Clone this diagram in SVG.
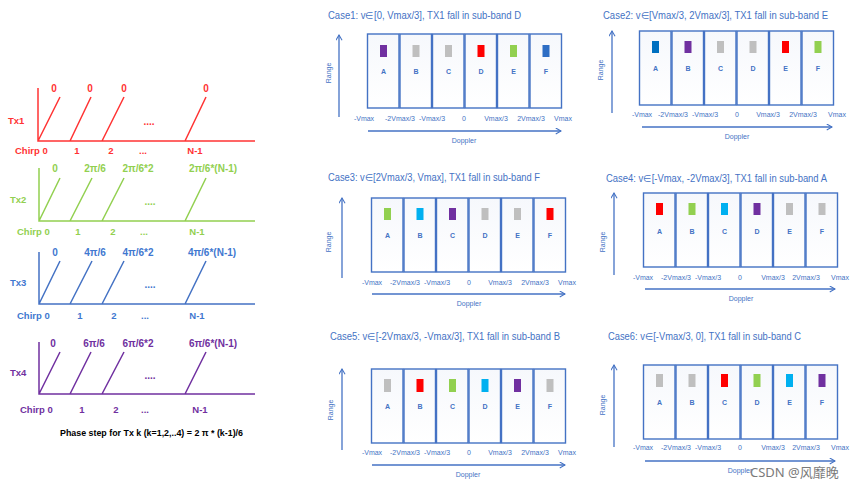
<svg xmlns="http://www.w3.org/2000/svg" width="865" height="488" viewBox="0 0 865 488">
<defs>
<marker id="ah" viewBox="0 0 8 8" refX="7" refY="4" markerWidth="7" markerHeight="7" orient="auto" markerUnits="userSpaceOnUse">
<path d="M1,0.5 L7,4 L1,7.5" fill="none" stroke="#4472c4" stroke-width="1.2"/>
</marker>
<linearGradient id="cg" x1="0" y1="0" x2="0" y2="1">
<stop offset="0" stop-color="#f6f8fc"/><stop offset="1" stop-color="#ffffff"/>
</linearGradient>
</defs>
<style>
text{font-family:"Liberation Sans","Open Sans",sans-serif;}
.red{fill:#ff3333;} .grn{fill:#92d050;} .blu{fill:#3f78d0;} .pur{fill:#7030a0;}
.lr{stroke:#ff3333;stroke-width:1.5;fill:none;} .lg{stroke:#92d050;stroke-width:1.5;fill:none;}
.lb{stroke:#4472c4;stroke-width:1.5;fill:none;} .lp{stroke:#7030a0;stroke-width:1.5;fill:none;}
.ph{font-size:10px;font-weight:bold;text-anchor:middle;}
.tx{font-size:9.5px;font-weight:bold;}
.ch{font-size:9.5px;font-weight:bold;}
.chm{font-size:9.5px;font-weight:bold;text-anchor:middle;}
.title{font-size:10px;fill:#4472c4;}
.col{fill:url(#cg);stroke:#4472c4;stroke-width:1.4;}
.lt{font-size:7px;font-weight:bold;fill:#4472c4;text-anchor:middle;}
.tk{font-size:7px;fill:#4472c4;text-anchor:middle;}
.ax{stroke:#4472c4;stroke-width:1.3;fill:none;marker-end:url(#ah);}
.al{font-size:7px;fill:#4472c4;text-anchor:middle;}
.cR{fill:#ff0000;} .cG{fill:#92d050;} .cB{fill:#2e6ec4;} .cC{fill:#00b0f0;} .cP{fill:#7030a0;} .cY{fill:#bfbfbf;}
</style>
<rect width="865" height="488" fill="#ffffff"/>

<!-- Tx1 -->
<g id="tx1">
<path class="lr" d="M38,88 V141 H255 M38,141 L60,97 M70,141 L91,97 M102,141 L124,97 M185,141 L206,97"/>
<text class="ph red" x="54" y="92">0</text>
<text class="ph red" x="90" y="92">0</text>
<text class="ph red" x="124" y="92">0</text>
<text class="ph red" x="206" y="92">0</text>
<text class="tx red" x="8" y="124">Tx1</text>
<text class="ph red" x="149" y="125">....</text>
<text class="ch red" x="15" y="154">Chirp 0</text>
<text class="chm red" x="77" y="154">1</text>
<text class="chm red" x="111" y="154">2</text>
<text class="chm red" x="143" y="154">...</text>
<text class="chm red" x="195" y="154">N-1</text>
</g>

<!-- Tx2 -->
<g id="tx2">
<path class="lg" d="M39,168 V221 H255 M39,221 L60,178 M70,221 L92,178 M102,221 L124,178 M185,221 L206,178"/>
<text class="ph grn" x="55" y="172">0</text>
<text class="ph grn" x="95" y="172">2π/6</text>
<text class="ph grn" x="138" y="172">2π/6*2</text>
<text class="ph grn" x="213" y="172">2π/6*(N-1)</text>
<text class="tx grn" x="10" y="203">Tx2</text>
<text class="ph grn" x="150" y="205">....</text>
<text class="ch grn" x="17" y="235">Chirp 0</text>
<text class="chm grn" x="78" y="235">1</text>
<text class="chm grn" x="113" y="235">2</text>
<text class="chm grn" x="144" y="235">...</text>
<text class="chm grn" x="197" y="235">N-1</text>
</g>

<!-- Tx3 -->
<g id="tx3">
<path class="lb" d="M39,252 V304 H255 M39,304 L60,261 M70,304 L92,261 M102,304 L124,261 M185,304 L206,261"/>
<text class="ph blu" x="55" y="256">0</text>
<text class="ph blu" x="95" y="256">4π/6</text>
<text class="ph blu" x="138" y="256">4π/6*2</text>
<text class="ph blu" x="212" y="256">4π/6*(N-1)</text>
<text class="tx blu" x="10" y="286">Tx3</text>
<text class="ph blu" x="150" y="288">....</text>
<text class="ch blu" x="17" y="319">Chirp 0</text>
<text class="chm blu" x="80" y="319">1</text>
<text class="chm blu" x="114" y="319">2</text>
<text class="chm blu" x="145" y="319">...</text>
<text class="chm blu" x="197" y="319">N-1</text>
</g>

<!-- Tx4 -->
<g id="tx4">
<path class="lp" d="M39,342 V394 H255 M39,394 L60,352 M70,394 L91,352 M102,394 L124,352 M185,394 L206,352"/>
<text class="ph pur" x="53" y="347">0</text>
<text class="ph pur" x="94" y="347">6π/6</text>
<text class="ph pur" x="138" y="347">6π/6*2</text>
<text class="ph pur" x="213" y="347">6π/6*(N-1)</text>
<text class="tx pur" x="10" y="376">Tx4</text>
<text class="ph pur" x="150" y="379">....</text>
<text class="ch pur" x="20" y="413">Chirp 0</text>
<text class="chm pur" x="82" y="413">1</text>
<text class="chm pur" x="116" y="413">2</text>
<text class="chm pur" x="145" y="413">...</text>
<text class="chm pur" x="200" y="413">N-1</text>
</g>

<g id="phase-note">
<text x="60" y="436" font-size="8.5" font-weight="bold" fill="#000" textLength="183" lengthAdjust="spacingAndGlyphs">Phase step for Tx k (k=1,2,..4) = 2 π * (k-1)/6</text>
</g>

<!-- Case 1 -->
<g id="case1">
<text class="title" x="328" y="18.5" textLength="193" lengthAdjust="spacingAndGlyphs">Case1:  v∈[0, Vmax/3], TX1 fall in sub-band D</text>
<g transform="translate(367,34)">
<rect class="col" x="0.5" y="0" width="31.5" height="74"/><rect class="col" x="33" y="0" width="31.5" height="74"/><rect class="col" x="65.5" y="0" width="31.5" height="74"/><rect class="col" x="98" y="0" width="31.5" height="74"/><rect class="col" x="130.5" y="0" width="31.5" height="74"/><rect class="col" x="163" y="0" width="31.5" height="74"/>
<rect class="cP" x="13" y="11" width="7" height="12"/><rect class="cY" x="45.5" y="11" width="7" height="12"/><rect class="cY" x="78" y="11" width="7" height="12"/><rect class="cR" x="110.5" y="11" width="7" height="12"/><rect class="cG" x="143" y="11" width="7" height="12"/><rect class="cB" x="175.5" y="11" width="7" height="12"/>
<text class="lt" x="16.5" y="39.5">A</text><text class="lt" x="49" y="39.5">B</text><text class="lt" x="81.5" y="39.5">C</text><text class="lt" x="114" y="39.5">D</text><text class="lt" x="146.5" y="39.5">E</text><text class="lt" x="179" y="39.5">F</text>
<line class="ax" x1="-28" y1="83" x2="-28" y2="1"/>
<text class="al" transform="translate(-36,39) rotate(-90)">Range</text>
<text class="tk" x="-3" y="86.5">-Vmax</text><text class="tk" x="33" y="86.5">-2Vmax/3</text><text class="tk" x="65" y="86.5">-Vmax/3</text><text class="tk" x="97" y="86.5">0</text><text class="tk" x="129" y="86.5">Vmax/3</text><text class="tk" x="164" y="86.5">2Vmax/3</text><text class="tk" x="196" y="86.5">Vmax</text>
<line class="ax" x1="1" y1="97" x2="194" y2="97"/>
<text class="al" x="97" y="108.5">Doppler</text>
</g>
</g>

<!-- Case 2 -->
<g id="case2">
<text class="title" x="603" y="18.5" textLength="225" lengthAdjust="spacingAndGlyphs">Case2:  v∈[Vmax/3, 2Vmax/3], TX1 fall in sub-band E</text>
<g transform="translate(639,31)">
<rect class="col" x="0.5" y="0" width="31.5" height="74"/><rect class="col" x="33" y="0" width="31.5" height="74"/><rect class="col" x="65.5" y="0" width="31.5" height="74"/><rect class="col" x="98" y="0" width="31.5" height="74"/><rect class="col" x="130.5" y="0" width="31.5" height="74"/><rect class="col" x="163" y="0" width="31.5" height="74"/>
<rect class="cB" x="13" y="10" width="7" height="12" style="fill:#0070c0"/><rect class="cP" x="45.5" y="10" width="7" height="12"/><rect class="cY" x="78" y="10" width="7" height="12"/><rect class="cY" x="110.5" y="10" width="7" height="12"/><rect class="cR" x="143" y="10" width="7" height="12"/><rect class="cG" x="175.5" y="10" width="7" height="12"/>
<text class="lt" x="16.5" y="39.5">A</text><text class="lt" x="49" y="39.5">B</text><text class="lt" x="81.5" y="39.5">C</text><text class="lt" x="114" y="39.5">D</text><text class="lt" x="146.5" y="39.5">E</text><text class="lt" x="179" y="39.5">F</text>
<line class="ax" x1="-27" y1="82" x2="-27" y2="0"/>
<text class="al" transform="translate(-36,39) rotate(-90)">Range</text>
<text class="tk" x="3" y="85.5">-Vmax</text><text class="tk" x="34" y="85.5">-2Vmax/3</text><text class="tk" x="66" y="85.5">-Vmax/3</text><text class="tk" x="98" y="85.5">0</text><text class="tk" x="129" y="85.5">Vmax/3</text><text class="tk" x="164" y="85.5">2Vmax/3</text><text class="tk" x="198" y="85.5">Vmax</text>
<line class="ax" x1="3" y1="96" x2="193" y2="96"/>
<text class="al" x="98" y="107.5">Doppler</text>
</g>
</g>

<!-- Case 3 -->
<g id="case3">
<text class="title" x="328" y="180.5" textLength="212" lengthAdjust="spacingAndGlyphs">Case3:  v∈[2Vmax/3, Vmax], TX1 fall in sub-band F</text>
<g transform="translate(371,198)">
<rect class="col" x="0.5" y="0" width="31.5" height="74"/><rect class="col" x="33" y="0" width="31.5" height="74"/><rect class="col" x="65.5" y="0" width="31.5" height="74"/><rect class="col" x="98" y="0" width="31.5" height="74"/><rect class="col" x="130.5" y="0" width="31.5" height="74"/><rect class="col" x="163" y="0" width="31.5" height="74"/>
<rect class="cG" x="13" y="10" width="7" height="12"/><rect class="cC" x="45.5" y="10" width="7" height="12"/><rect class="cP" x="78" y="10" width="7" height="12"/><rect class="cY" x="110.5" y="10" width="7" height="12"/><rect class="cY" x="143" y="10" width="7" height="12"/><rect class="cR" x="175.5" y="10" width="7" height="12"/>
<text class="lt" x="16.5" y="39.5">A</text><text class="lt" x="49" y="39.5">B</text><text class="lt" x="81.5" y="39.5">C</text><text class="lt" x="114" y="39.5">D</text><text class="lt" x="146.5" y="39.5">E</text><text class="lt" x="179" y="39.5">F</text>
<line class="ax" x1="-29" y1="80" x2="-29" y2="0"/>
<text class="al" transform="translate(-40,44) rotate(-90)">Range</text>
<text class="tk" x="1" y="86.5">-Vmax</text><text class="tk" x="34" y="86.5">-2Vmax/3</text><text class="tk" x="66" y="86.5">-Vmax/3</text><text class="tk" x="98" y="86.5">0</text><text class="tk" x="129" y="86.5">Vmax/3</text><text class="tk" x="164" y="86.5">2Vmax/3</text><text class="tk" x="196" y="86.5">Vmax</text>
<line class="ax" x1="1" y1="96" x2="194" y2="96"/>
<text class="al" x="98" y="107.5">Doppler</text>
</g>
</g>

<!-- Case 4 -->
<g id="case4">
<text class="title" x="606" y="181.5" textLength="221" lengthAdjust="spacingAndGlyphs">Case4:  v∈[-Vmax, -2Vmax/3], TX1 fall in sub-band A</text>
<g transform="translate(643,193)">
<rect class="col" x="0.5" y="0" width="31.5" height="74"/><rect class="col" x="33" y="0" width="31.5" height="74"/><rect class="col" x="65.5" y="0" width="31.5" height="74"/><rect class="col" x="98" y="0" width="31.5" height="74"/><rect class="col" x="130.5" y="0" width="31.5" height="74"/><rect class="col" x="163" y="0" width="31.5" height="74"/>
<rect class="cR" x="13" y="10" width="7" height="12"/><rect class="cG" x="45.5" y="10" width="7" height="12"/><rect class="cC" x="78" y="10" width="7" height="12"/><rect class="cP" x="110.5" y="10" width="7" height="12"/><rect class="cY" x="143" y="10" width="7" height="12"/><rect class="cY" x="175.5" y="10" width="7" height="12"/>
<text class="lt" x="16.5" y="40.5">A</text><text class="lt" x="49" y="40.5">B</text><text class="lt" x="81.5" y="40.5">C</text><text class="lt" x="114" y="40.5">D</text><text class="lt" x="146.5" y="40.5">E</text><text class="lt" x="179" y="40.5">F</text>
<line class="ax" x1="-29" y1="82" x2="-29" y2="0"/>
<text class="al" transform="translate(-38,49) rotate(-90)">Range</text>
<text class="tk" x="0" y="86.5">-Vmax</text><text class="tk" x="33" y="86.5">-2Vmax/3</text><text class="tk" x="65" y="86.5">-Vmax/3</text><text class="tk" x="97" y="86.5">0</text><text class="tk" x="130" y="86.5">Vmax/3</text><text class="tk" x="163" y="86.5">2Vmax/3</text><text class="tk" x="197" y="86.5">Vmax</text>
<line class="ax" x1="2" y1="96" x2="192" y2="96"/>
<text class="al" x="98" y="107.5">Doppler</text>
</g>
</g>

<!-- Case 5 -->
<g id="case5">
<text class="title" x="330" y="339.5" textLength="230" lengthAdjust="spacingAndGlyphs">Case5:  v∈[-2Vmax/3, -Vmax/3], TX1 fall in sub-band B</text>
<g transform="translate(371,369)">
<rect class="col" x="0.5" y="0" width="31.5" height="74"/><rect class="col" x="33" y="0" width="31.5" height="74"/><rect class="col" x="65.5" y="0" width="31.5" height="74"/><rect class="col" x="98" y="0" width="31.5" height="74"/><rect class="col" x="130.5" y="0" width="31.5" height="74"/><rect class="col" x="163" y="0" width="31.5" height="74"/>
<rect class="cY" x="13" y="10" width="7" height="13"/><rect class="cR" x="45.5" y="10" width="7" height="13"/><rect class="cG" x="78" y="10" width="7" height="13"/><rect class="cC" x="110.5" y="10" width="7" height="13"/><rect class="cP" x="143" y="10" width="7" height="13"/><rect class="cY" x="175.5" y="10" width="7" height="13"/>
<text class="lt" x="16.5" y="39.5">A</text><text class="lt" x="49" y="39.5">B</text><text class="lt" x="81.5" y="39.5">C</text><text class="lt" x="114" y="39.5">D</text><text class="lt" x="146.5" y="39.5">E</text><text class="lt" x="179" y="39.5">F</text>
<line class="ax" x1="-29" y1="81" x2="-29" y2="0"/>
<text class="al" transform="translate(-38,41) rotate(-90)">Range</text>
<text class="tk" x="1" y="85.5">-Vmax</text><text class="tk" x="34" y="85.5">-2Vmax/3</text><text class="tk" x="66" y="85.5">-Vmax/3</text><text class="tk" x="98" y="85.5">0</text><text class="tk" x="129" y="85.5">Vmax/3</text><text class="tk" x="164" y="85.5">2Vmax/3</text><text class="tk" x="196" y="85.5">Vmax</text>
<line class="ax" x1="1" y1="96" x2="194" y2="96"/>
<text class="al" x="97" y="107.5">Doppler</text>
</g>
</g>

<!-- Case 6 -->
<g id="case6">
<text class="title" x="608" y="339.5" textLength="193" lengthAdjust="spacingAndGlyphs">Case6:  v∈[-Vmax/3, 0], TX1 fall in sub-band C</text>
<g transform="translate(643,365)">
<rect class="col" x="0.5" y="0" width="31.5" height="74"/><rect class="col" x="33" y="0" width="31.5" height="74"/><rect class="col" x="65.5" y="0" width="31.5" height="74"/><rect class="col" x="98" y="0" width="31.5" height="74"/><rect class="col" x="130.5" y="0" width="31.5" height="74"/><rect class="col" x="163" y="0" width="31.5" height="74"/>
<rect class="cY" x="13" y="9" width="7" height="13"/><rect class="cY" x="45.5" y="9" width="7" height="13"/><rect class="cR" x="78" y="9" width="7" height="13"/><rect class="cG" x="110.5" y="9" width="7" height="13"/><rect class="cC" x="143" y="9" width="7" height="13"/><rect class="cP" x="175.5" y="9" width="7" height="13"/>
<text class="lt" x="16.5" y="39.5">A</text><text class="lt" x="49" y="39.5">B</text><text class="lt" x="81.5" y="39.5">C</text><text class="lt" x="114" y="39.5">D</text><text class="lt" x="146.5" y="39.5">E</text><text class="lt" x="179" y="39.5">F</text>
<line class="ax" x1="-29" y1="82" x2="-29" y2="0"/>
<text class="al" transform="translate(-38,40) rotate(-90)">Range</text>
<text class="tk" x="0" y="84.5">-Vmax</text><text class="tk" x="33" y="84.5">-2Vmax/3</text><text class="tk" x="65" y="84.5">-Vmax/3</text><text class="tk" x="97" y="84.5">0</text><text class="tk" x="130" y="84.5">Vmax/3</text><text class="tk" x="163" y="84.5">2Vmax/3</text><text class="tk" x="197" y="84.5">Vmax</text>
<line class="ax" x1="2" y1="96" x2="192" y2="96"/>
<text class="al" x="97" y="107.5">Doppler</text>
</g>
</g>

<g id="watermark">
<text x="750" y="477" font-size="13" fill="#7a7a7a" style="font-family:'Noto Sans','Noto Sans CJK SC',sans-serif">CSDN @风靡晚</text>
</g>
</svg>
